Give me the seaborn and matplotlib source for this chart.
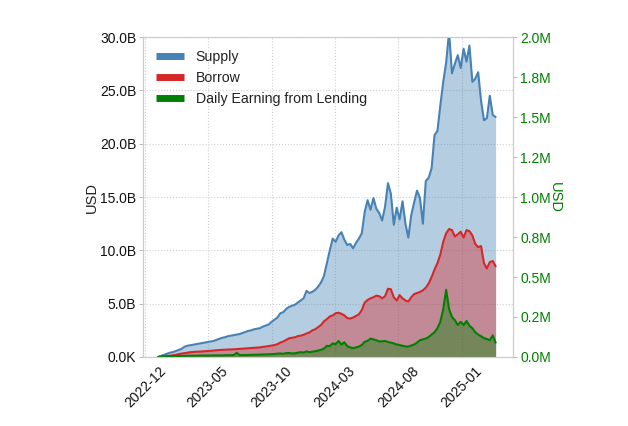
import matplotlib
matplotlib.use("Agg")
import matplotlib.pyplot as plt
import matplotlib.dates as mdates
import matplotlib.ticker as mticker
import numpy as np
import pandas as pd
import seaborn as sns

# weekly readings, first week = 2023-01-01
start_date = "2023-01-01"

supply_b = [
    0.0, 0.1, 0.2, 0.3, 0.4, 0.45, 0.55, 0.65, 0.75, 0.95,
    1.05, 1.1, 1.15, 1.2, 1.25, 1.3, 1.35, 1.4, 1.45, 1.5,
    1.6, 1.7, 1.8, 1.85, 1.95, 2.0, 2.05, 2.1, 2.15, 2.25,
    2.35, 2.45, 2.5, 2.6, 2.65, 2.7, 2.85, 2.95, 3.05, 3.3,
    3.5, 3.7, 4.1, 4.2, 4.5, 4.7, 4.8, 4.9, 5.1, 5.3,
    5.5, 6.2, 6.0, 6.1, 6.3, 6.6, 7.0, 7.6, 8.8, 10.0,
    11.1, 10.8, 11.4, 11.7, 11.0, 10.5, 10.6, 10.2, 10.7, 11.1,
    11.6, 13.6, 14.7, 13.8, 14.9, 13.9, 13.5, 12.8, 14.1, 16.3,
    15.3, 12.4, 14.0, 12.9, 14.6, 12.5, 11.2, 13.3, 14.5, 15.6,
    14.9, 12.5, 16.5, 16.8, 17.7, 20.8, 21.2, 23.6, 25.8, 27.6,
    30.5, 26.6, 27.5, 28.3, 27.1, 28.9, 27.7, 29.2, 25.8, 26.1,
    26.7, 24.0, 22.2, 22.4, 24.5, 22.7, 22.5,
]

borrow_b = [
    0.0, 0.03, 0.06, 0.1, 0.12, 0.16, 0.2, 0.27, 0.32, 0.36,
    0.4, 0.45, 0.47, 0.49, 0.5, 0.52, 0.54, 0.56, 0.58, 0.6,
    0.63, 0.65, 0.67, 0.68, 0.7, 0.71, 0.72, 0.74, 0.76, 0.78,
    0.8, 0.82, 0.84, 0.86, 0.88, 0.9, 0.95, 0.98, 1.02, 1.07,
    1.12, 1.2, 1.35, 1.45, 1.6, 1.75, 1.8, 1.85, 1.95, 2.0,
    2.08, 2.2, 2.3, 2.5, 2.6, 2.8, 3.0, 3.35, 3.55, 3.8,
    3.9, 4.1, 4.15, 4.05, 3.9, 3.65, 3.6, 3.7, 3.85, 4.0,
    4.4, 5.1, 5.35, 5.5, 5.6, 5.75, 5.7, 5.5, 5.7, 6.4,
    6.35, 5.6, 5.3, 5.8, 5.5, 5.3, 5.2, 5.6, 5.9, 6.0,
    6.1, 6.25, 6.5, 6.9, 7.5, 8.2, 8.8, 9.6, 10.8, 11.6,
    12.0, 11.9, 11.3, 11.5, 11.75, 11.2, 11.9, 11.8, 11.4, 10.6,
    10.3, 10.4, 8.8, 8.3, 8.9, 9.0, 8.5,
]

earning_m = [
    0.0, 0.002, 0.003, 0.004, 0.005, 0.005, 0.006, 0.006, 0.007, 0.007,
    0.008, 0.008, 0.008, 0.008, 0.009, 0.009, 0.009, 0.009, 0.009, 0.010,
    0.010, 0.010, 0.010, 0.011, 0.011, 0.011, 0.012, 0.026, 0.012, 0.012,
    0.012, 0.013, 0.013, 0.014, 0.014, 0.015, 0.016, 0.016, 0.017, 0.018,
    0.019, 0.021, 0.022, 0.020, 0.024, 0.025, 0.022, 0.023, 0.027, 0.030,
    0.028, 0.035, 0.030, 0.033, 0.036, 0.040, 0.045, 0.052, 0.070, 0.068,
    0.085, 0.080, 0.100, 0.078, 0.092, 0.068, 0.060, 0.055, 0.060, 0.065,
    0.075, 0.095, 0.100, 0.115, 0.110, 0.105, 0.097, 0.098, 0.100, 0.094,
    0.090, 0.085, 0.078, 0.075, 0.070, 0.066, 0.065, 0.072, 0.078, 0.090,
    0.105, 0.110, 0.115, 0.125, 0.140, 0.155, 0.180, 0.220, 0.300, 0.420,
    0.300, 0.250, 0.230, 0.200, 0.220, 0.200, 0.225, 0.195, 0.180, 0.155,
    0.140, 0.130, 0.118, 0.112, 0.105, 0.135, 0.090,
]

tick_dates = ["2022-12-01", "2023-05-01", "2023-10-01", "2024-03-01", "2024-08-01", "2025-01-01"]

dates = pd.date_range(start_date, periods=len(supply_b), freq="7D")
df = pd.DataFrame({
    "date": dates,
    "supply": np.array(supply_b) * 1e9,
    "borrow": np.array(borrow_b) * 1e9,
    "earning": np.array(earning_m) * 1e6,
})

sns.set_style("whitegrid", {"grid.color": "#d0d0d0", "grid.linestyle": ":",
                            "axes.edgecolor": "#cccccc"})
plt.rcParams["font.family"] = ["Liberation Sans", "DejaVu Sans"]

fig = plt.figure(figsize=(6.28, 4.26), dpi=100)
ax = fig.add_axes([0.228, 0.162, 0.589, 0.751])
ax2 = ax.twinx()

blue, red, green = "#4682b4", "#d62728", "green"

sns.lineplot(data=df, x="date", y="supply", ax=ax, color=blue, linewidth=1.5, legend=False)
ax.fill_between(df["date"], df["supply"], color=blue, alpha=0.4, linewidth=0)
sns.lineplot(data=df, x="date", y="borrow", ax=ax, color=red, linewidth=1.5, legend=False)
ax.fill_between(df["date"], df["borrow"], color=red, alpha=0.4, linewidth=0)
sns.lineplot(data=df, x="date", y="earning", ax=ax2, color=green, linewidth=1.5, legend=False)
ax2.fill_between(df["date"], df["earning"], color=green, alpha=0.4, linewidth=0)

ax.set_ylim(0, 30e9)
ax2.set_ylim(0, 2e6)
ax.set_xlim(pd.Timestamp("2022-11-26"), pd.Timestamp("2025-05-04"))


def fmt_left(x, pos):
    if x >= 1e9:
        return f"{x / 1e9:.1f}B"
    if x >= 1e6:
        return f"{x / 1e6:.1f}M"
    return f"{x / 1e3:.1f}K"


ax.yaxis.set_major_locator(mticker.MultipleLocator(5e9))
ax.yaxis.set_major_formatter(mticker.FuncFormatter(fmt_left))
ax2.yaxis.set_major_locator(mticker.MultipleLocator(0.25e6))
ax2.yaxis.set_major_formatter(mticker.FuncFormatter(lambda x, p: f"{x / 1e6:.1f}M"))
ax2.grid(False)

ax.xaxis.set_major_locator(mticker.FixedLocator(mdates.date2num(pd.to_datetime(tick_dates))))
ax.xaxis.set_major_formatter(mdates.DateFormatter("%Y-%m"))
plt.setp(ax.get_xticklabels(), rotation=45, ha="center")

ax.tick_params(axis="both", labelsize=10, length=3, color="#bbbbbb", labelcolor="#111111", pad=2)
ax2.tick_params(axis="y", labelsize=10, length=3, color="#bbbbbb", labelcolor=green, pad=2)
for s in ax2.spines.values():
    s.set_color("#cccccc")

ax.set_xlabel("")
ax.set_ylabel("USD", fontsize=10.5, color="#222222", labelpad=1)
ax2.set_ylabel("USD", fontsize=10.5, color=green, rotation=270, labelpad=8)

handles = [plt.Line2D([], [], color=c, linewidth=5, solid_capstyle="butt") for c in (blue, red, green)]
leg = ax2.legend(handles, ["Supply", "Borrow", "Daily Earning from Lending"], loc="upper left",
                 frameon=False, fontsize=10.2, handlelength=2.0, labelspacing=0.5)
for t in leg.get_texts():
    t.set_color("#222222")

fig.savefig("out.png", dpi=100)
